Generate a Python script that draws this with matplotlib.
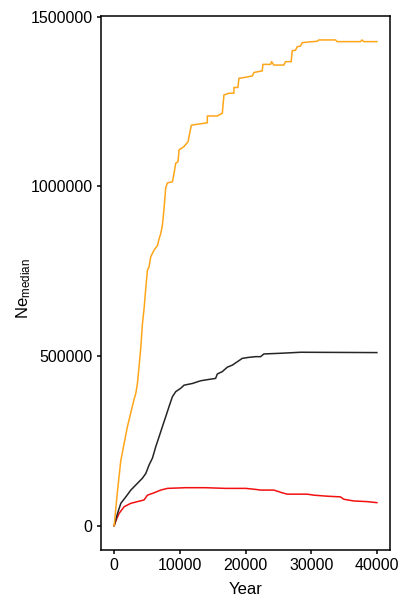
import matplotlib
matplotlib.use("Agg")
import matplotlib.pyplot as plt

plt.rcParams['font.family'] = ['Liberation Sans', 'DejaVu Sans']
plt.rcParams['mathtext.fontset'] = 'custom'
plt.rcParams['mathtext.rm'] = 'Liberation Sans'
plt.rcParams['mathtext.it'] = 'Liberation Sans:italic'

orange_year = [0, 500, 1000, 1500, 2000, 2500, 3000, 3300, 3550, 3800, 4060, 4310, 4560,
               4820, 5070, 5320, 5570, 6080, 6590, 6840, 7090, 7350, 7600, 7850, 8110,
               8870, 9120, 9380, 9730, 9880, 10640, 11250, 11550, 11760, 14190, 14190,
               15710, 16470, 16720, 17480, 18240, 18240, 18850, 19000, 20020, 21040,
               21280, 22550, 22650, 23820, 23970, 24320, 25840, 26100, 26960, 27110,
               27620, 27870, 28380, 28630, 29640, 30910, 31170, 33700, 33950, 37500,
               37750, 38010, 40000]
orange_ne = [0, 100000, 190000, 240000, 290000, 330000, 370000, 390000, 420000, 470000,
             525000, 595000, 640000, 700000, 753000, 763000, 792000, 812000, 825000,
             845000, 860000, 885000, 935000, 995000, 1010000, 1013000, 1038000, 1068000,
             1072000, 1107000, 1117000, 1131000, 1161000, 1180000, 1187000, 1207000,
             1207000, 1215000, 1269000, 1274000, 1274000, 1291000, 1291000, 1318000,
             1321000, 1325000, 1335000, 1340000, 1359000, 1359000, 1367000, 1357000,
             1357000, 1367000, 1367000, 1399000, 1401000, 1411000, 1413000, 1423000,
             1425000, 1427000, 1431000, 1431000, 1426000, 1426000, 1431000, 1426000,
             1426000]

black_year = [0, 520, 1020, 1780, 2540, 3300, 3800, 4310, 4820, 5320, 5830, 6340, 6840,
              7350, 7850, 8360, 8870, 9380, 10140, 10640, 11910, 13170, 14440, 15450,
              15710, 16470, 17230, 17990, 18750, 19510, 20530, 21540, 22300, 22800,
              25340, 28380, 40000]
black_ne = [0, 36500, 66000, 85000, 105000, 120000, 130000, 140000, 154000, 179000,
            199000, 233000, 262000, 292000, 321000, 351000, 380000, 395000, 405000,
            414000, 419000, 427000, 431000, 434000, 447000, 454000, 467000, 473000,
            483000, 493000, 496000, 498000, 498000, 506000, 508000, 511000, 510000]

red_year = [0, 380, 760, 1520, 2540, 3550, 4560, 5070, 6080, 7090, 8110, 10890, 13930,
            16980, 20020, 21540, 22300, 24320, 25590, 26350, 29390, 30400, 32430, 34460,
            34960, 36480, 38510, 40000]
red_ne = [0, 20000, 36500, 56000, 66000, 71000, 76000, 90000, 97000, 105000, 110000,
          112000, 112000, 110000, 110000, 107000, 105000, 105000, 97000, 93000, 93000,
          90000, 87000, 85000, 78000, 73000, 71000, 68000]

x_ticks = [0, 10000, 20000, 30000, 40000]
y_ticks = [0, 500000, 1000000, 1500000]

fig = plt.figure(figsize=(3.99, 6.01), dpi=100)
ax = fig.add_axes([101 / 399, 1 - 550 / 601, 289 / 399, 534 / 601])

lw = 1.1
ax.plot(red_year, red_ne, color='#F21010', lw=lw)
ax.plot(black_year, black_ne, color='#262626', lw=lw)
ax.plot(orange_year, orange_ne, color='#FFA51A', lw=lw)

ax.set_xlim(-2000, 42000)
ax.set_ylim(-71500, 1501500)
ax.set_xticks(x_ticks)
ax.set_xticklabels([str(v) for v in x_ticks])
ax.set_yticks(y_ticks)
ax.set_yticklabels([str(v) for v in y_ticks])

for s in ax.spines.values():
    s.set_linewidth(1.1)
    s.set_color('black')

ax.tick_params(axis='both', length=3, width=1.1, colors='black', labelsize=11.5,
               labelcolor='black', pad=3)

ax.set_xlabel('Year', fontsize=12, labelpad=6, color='black')
ax.set_ylabel(r'Ne$_{\mathrm{median}}$', fontsize=12, color='black')
ax.yaxis.set_label_coords(-0.235, 0.49)

fig.savefig('out.png', dpi=100)
